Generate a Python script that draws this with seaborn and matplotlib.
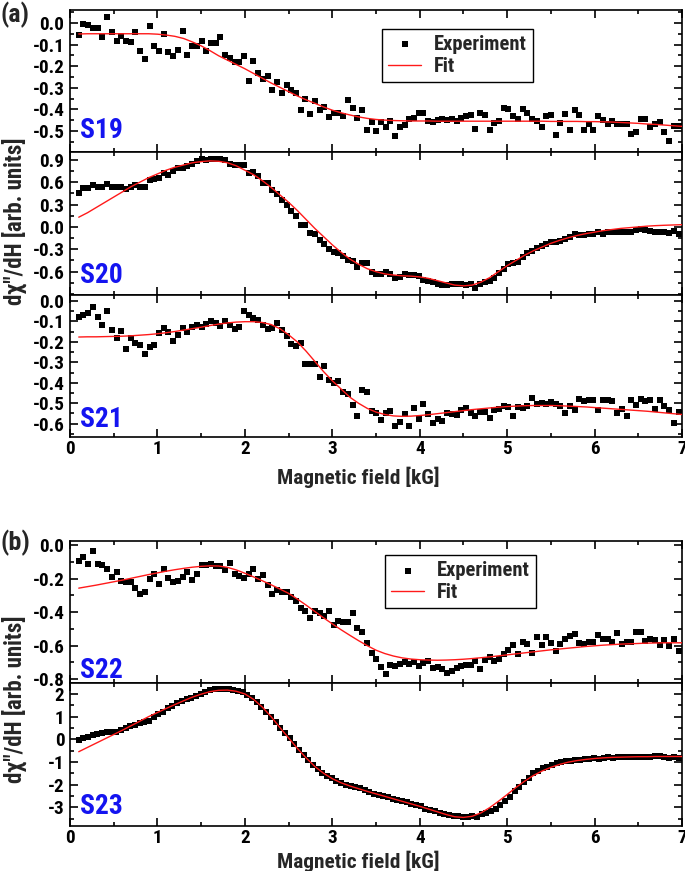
import numpy as np
import pandas as pd
import matplotlib
matplotlib.use("Agg")
import matplotlib.pyplot as plt
import seaborn as sns
from matplotlib import font_manager
from matplotlib.ticker import MultipleLocator, FixedLocator, FormatStrFormatter

# ---- data ----
s19_exp = [-0.057, -0.005, -0.011, -0.025, -0.025, -0.067, 0.028, -0.043, -0.082, -0.059,
           -0.084, -0.09, -0.043, -0.132, -0.166, -0.016, -0.106, -0.13, -0.051, -0.134,
           -0.155, -0.124, -0.037, -0.148, -0.109, -0.109, -0.084, -0.13, -0.093, -0.095,
           -0.065, -0.148, -0.163, -0.183, -0.183, -0.152, -0.269, -0.176, -0.233, -0.259,
           -0.248, -0.31, -0.272, -0.326, -0.287, -0.31, -0.326, -0.404, -0.354, -0.422,
           -0.36, -0.404, -0.388, -0.435, -0.416, -0.419, -0.43, -0.357, -0.392, -0.442,
           -0.404, -0.494, -0.461, -0.5, -0.458, -0.484, -0.455, -0.525, -0.481, -0.472,
           -0.447, -0.438, -0.419, -0.419, -0.453, -0.458, -0.45, -0.447, -0.45, -0.443,
           -0.453, -0.438, -0.432, -0.427, -0.489, -0.419, -0.427, -0.497, -0.463, -0.453,
           -0.396, -0.399, -0.432, -0.446, -0.399, -0.419, -0.446, -0.453, -0.481, -0.43,
           -0.427, -0.52, -0.463, -0.422, -0.494, -0.404, -0.427, -0.494, -0.466, -0.494,
           -0.432, -0.45, -0.469, -0.453, -0.469, -0.469, -0.466, -0.516, -0.505, -0.443,
           -0.443, -0.481, -0.469, -0.46, -0.505, -0.546, -0.478, -0.475]
s19_fit = [-0.051, -0.05, -0.05, -0.05, -0.05, -0.05, -0.05, -0.05, -0.05, -0.052,
           -0.056, -0.062, -0.072, -0.088, -0.106, -0.128, -0.152, -0.172, -0.192, -0.212,
           -0.234, -0.256, -0.278, -0.298, -0.318, -0.338, -0.356, -0.372, -0.389, -0.404,
           -0.416, -0.426, -0.435, -0.442, -0.447, -0.45, -0.452, -0.453, -0.454, -0.454,
           -0.454, -0.455, -0.455, -0.455, -0.455, -0.455, -0.455, -0.455, -0.455, -0.455,
           -0.455, -0.455, -0.455, -0.455, -0.456, -0.456, -0.456, -0.456, -0.457, -0.457,
           -0.458, -0.459, -0.461, -0.463, -0.465, -0.468, -0.47, -0.473, -0.476, -0.479]

s20_exp = [0.45, 0.52, 0.52, 0.565, 0.54, 0.54, 0.58, 0.53, 0.53, 0.53,
           0.51, 0.54, 0.56, 0.54, 0.54, 0.63, 0.645, 0.65, 0.725, 0.70,
           0.745, 0.79, 0.79, 0.82, 0.845, 0.88, 0.905, 0.895, 0.905, 0.905,
           0.91, 0.9, 0.845, 0.835, 0.825, 0.825, 0.72, 0.735, 0.685, 0.585,
           0.585, 0.49, 0.445, 0.365, 0.3, 0.215, 0.14, 0.025, 0.02, -0.085,
           -0.1, -0.175, -0.23, -0.3, -0.33, -0.355, -0.39, -0.445, -0.455, -0.54,
           -0.49, -0.49, -0.6, -0.63, -0.63, -0.61, -0.625, -0.68, -0.675, -0.625,
           -0.645, -0.645, -0.655, -0.71, -0.725, -0.745, -0.77, -0.78, -0.78, -0.76,
           -0.77, -0.77, -0.78, -0.77, -0.815, -0.77, -0.735, -0.725, -0.68, -0.62,
           -0.565, -0.5, -0.49, -0.465, -0.4, -0.355, -0.325, -0.28, -0.25, -0.23,
           -0.205, -0.205, -0.19, -0.16, -0.13, -0.1, -0.105, -0.105, -0.1, -0.09,
           -0.07, -0.09, -0.065, -0.07, -0.07, -0.07, -0.065, -0.07, -0.04, -0.025,
           -0.045, -0.055, -0.065, -0.065, -0.07, -0.08, -0.055, -0.1]
s20_fit = [0.13, 0.19, 0.26, 0.33, 0.40, 0.47, 0.54, 0.60, 0.66, 0.71,
           0.76, 0.80, 0.83, 0.86, 0.875, 0.885, 0.88, 0.86, 0.82, 0.76,
           0.70, 0.62, 0.53, 0.43, 0.33, 0.22, 0.10, -0.02, -0.13, -0.24,
           -0.34, -0.43, -0.50, -0.56, -0.60, -0.63, -0.645, -0.655, -0.66, -0.67,
           -0.69, -0.72, -0.75, -0.78, -0.79, -0.78, -0.74, -0.68, -0.60, -0.52,
           -0.45, -0.38, -0.32, -0.27, -0.22, -0.18, -0.145, -0.115, -0.09, -0.07,
           -0.05, -0.035, -0.02, -0.01, 0.0, 0.01, 0.017, 0.022, 0.026, 0.03]

s21_exp = [-0.077, -0.069, -0.058, -0.031, -0.077, -0.115, -0.048, -0.14, -0.179, -0.146,
           -0.235, -0.181, -0.206, -0.214, -0.258, -0.227, -0.214, -0.156, -0.13, -0.151,
           -0.197, -0.168, -0.132, -0.153, -0.128, -0.117, -0.127, -0.113, -0.097, -0.107,
           -0.12, -0.097, -0.117, -0.137, -0.125, -0.048, -0.069, -0.081, -0.094, -0.117,
           -0.137, -0.13, -0.107, -0.14, -0.169, -0.212, -0.219, -0.206, -0.308, -0.308,
           -0.308, -0.373, -0.319, -0.387, -0.4, -0.393, -0.446, -0.456, -0.508, -0.561,
           -0.436, -0.447, -0.539, -0.549, -0.581, -0.546, -0.538, -0.61, -0.592, -0.554,
           -0.613, -0.525, -0.576, -0.502, -0.551, -0.597, -0.576, -0.589, -0.549, -0.554,
           -0.559, -0.533, -0.525, -0.548, -0.564, -0.543, -0.543, -0.574, -0.531, -0.53,
           -0.512, -0.518, -0.564, -0.518, -0.525, -0.513, -0.472, -0.505, -0.497, -0.505,
           -0.492, -0.502, -0.515, -0.548, -0.515, -0.535, -0.477, -0.488, -0.484, -0.484,
           -0.533, -0.485, -0.485, -0.488, -0.549, -0.526, -0.562, -0.485, -0.508, -0.48,
           -0.488, -0.484, -0.526, -0.485, -0.513, -0.535, -0.595, -0.541]
s21_fit = [-0.176, -0.175, -0.175, -0.174, -0.173, -0.172, -0.17, -0.167, -0.164, -0.16,
           -0.155, -0.149, -0.142, -0.135, -0.128, -0.12, -0.113, -0.107, -0.103, -0.101,
           -0.101, -0.105, -0.115, -0.135, -0.165, -0.2, -0.245, -0.295, -0.345, -0.39,
           -0.43, -0.47, -0.5, -0.525, -0.543, -0.555, -0.562, -0.564, -0.563, -0.56,
           -0.556, -0.551, -0.546, -0.541, -0.536, -0.531, -0.527, -0.523, -0.519, -0.516,
           -0.514, -0.512, -0.511, -0.511, -0.511, -0.512, -0.514, -0.516, -0.518, -0.521,
           -0.524, -0.527, -0.53, -0.533, -0.536, -0.539, -0.543, -0.547, -0.551, -0.555]

s22_exp = [-0.096, -0.07, -0.113, -0.036, -0.113, -0.117, -0.144, -0.191, -0.159, -0.212,
           -0.223, -0.223, -0.255, -0.291, -0.282, -0.202, -0.172, -0.231, -0.144, -0.197,
           -0.219, -0.214, -0.193, -0.159, -0.206, -0.17, -0.121, -0.121, -0.113, -0.123,
           -0.125, -0.146, -0.108, -0.17, -0.185, -0.197, -0.17, -0.142, -0.202, -0.176,
           -0.24, -0.291, -0.27, -0.278, -0.282, -0.308, -0.333, -0.374, -0.393, -0.435,
           -0.393, -0.406, -0.425, -0.393, -0.478, -0.452, -0.456, -0.461, -0.403, -0.495,
           -0.52, -0.584, -0.641, -0.679, -0.728, -0.771, -0.715, -0.72, -0.711, -0.696,
           -0.711, -0.696, -0.722, -0.701, -0.69, -0.732, -0.728, -0.737, -0.766, -0.749,
           -0.732, -0.722, -0.715, -0.715, -0.69, -0.739, -0.686, -0.665, -0.694, -0.679,
           -0.648, -0.626, -0.594, -0.648, -0.58, -0.59, -0.641, -0.548, -0.594, -0.546,
           -0.584, -0.631, -0.592, -0.558, -0.541, -0.529, -0.584, -0.59, -0.58, -0.58,
           -0.537, -0.558, -0.558, -0.58, -0.524, -0.588, -0.58, -0.58, -0.52, -0.52,
           -0.573, -0.558, -0.567, -0.597, -0.567, -0.601, -0.563, -0.631]
s22_fit = [-0.257, -0.248, -0.239, -0.229, -0.219, -0.209, -0.198, -0.187, -0.176, -0.166,
           -0.156, -0.147, -0.139, -0.132, -0.127, -0.124, -0.125, -0.133, -0.148, -0.168,
           -0.19, -0.213, -0.237, -0.262, -0.288, -0.322, -0.358, -0.396, -0.434, -0.47,
           -0.505, -0.538, -0.57, -0.6, -0.627, -0.647, -0.662, -0.673, -0.68, -0.684,
           -0.686, -0.687, -0.686, -0.684, -0.681, -0.677, -0.672, -0.667, -0.661, -0.655,
           -0.649, -0.643, -0.637, -0.631, -0.625, -0.62, -0.615, -0.61, -0.605, -0.601,
           -0.597, -0.594, -0.591, -0.589, -0.587, -0.585, -0.584, -0.583, -0.583, -0.583]

s23_exp = [-0.035, 0.04, 0.11, 0.19, 0.245, 0.275, 0.3, 0.32, 0.33, 0.41,
           0.48, 0.57, 0.63, 0.70, 0.745, 0.82, 0.97, 1.1, 1.22, 1.37,
           1.48, 1.59, 1.69, 1.76, 1.84, 1.93, 2.01, 2.1, 2.19, 2.22,
           2.22, 2.22, 2.21, 2.18, 2.13, 2.07, 1.96, 1.81, 1.63, 1.44,
           1.22, 1.0, 0.745, 0.51, 0.26, 0.04, -0.23, -0.48, -0.70, -0.92,
           -1.14, -1.32, -1.47, -1.61, -1.73, -1.83, -1.92, -2.0, -2.07, -2.1,
           -2.14, -2.23, -2.32, -2.4, -2.47, -2.51, -2.56, -2.62, -2.66, -2.72,
           -2.79, -2.84, -2.91, -2.96, -3.06, -3.12, -3.18, -3.25, -3.28, -3.35,
           -3.38, -3.4, -3.43, -3.43, -3.38, -3.44, -3.32, -3.25, -3.18, -3.06,
           -2.91, -2.73, -2.53, -2.29, -2.09, -1.88, -1.7, -1.51, -1.41, -1.29,
           -1.23, -1.14, -1.07, -1.02, -0.96, -0.96, -0.92, -0.92, -0.88, -0.88,
           -0.82, -0.85, -0.82, -0.77, -0.82, -0.79, -0.79, -0.79, -0.79, -0.79,
           -0.77, -0.79, -0.79, -0.76, -0.76, -0.8, -0.82, -0.79, -0.82]
s23_fit = [-0.55, -0.36, -0.17, 0.02, 0.21, 0.4, 0.6, 0.8, 1.0, 1.18,
           1.36, 1.53, 1.7, 1.86, 1.99, 2.1, 2.16, 2.17, 2.12, 2.0,
           1.76, 1.42, 1.0, 0.52, 0.06, -0.4, -0.82, -1.2, -1.5, -1.74,
           -1.92, -2.06, -2.18, -2.3, -2.41, -2.52, -2.63, -2.74, -2.85, -2.96,
           -3.08, -3.2, -3.32, -3.42, -3.45, -3.4, -3.25, -3.02, -2.74, -2.44,
           -2.13, -1.85, -1.6, -1.4, -1.24, -1.11, -1.01, -0.94, -0.89, -0.85,
           -0.82, -0.8, -0.79, -0.78, -0.77, -0.77, -0.76, -0.76, -0.76, -0.76]

# y tick values shown on each panel
s19_ticks = [-0.5, -0.4, -0.3, -0.2, -0.1, 0.0]
s20_ticks = [-0.6, -0.3, 0.0, 0.3, 0.6, 0.9]
s21_ticks = [-0.6, -0.5, -0.4, -0.3, -0.2, -0.1, 0.0]
s22_ticks = [-0.8, -0.6, -0.4, -0.2, 0.0]
s23_ticks = [-3, -2, -1, 0, 1, 2]
x_ticks = [0, 1, 2, 3, 4, 5, 6, 7]

# ---- style ----
sns.set_theme(style="ticks")
names = {f.name for f in font_manager.fontManager.ttflist}
main_font, k = "Liberation Sans", 1.0
for cand, kk in [("Roboto Condensed", 1.1), ("Fira Sans Condensed", 1.08)]:
    if cand in names:
        main_font, k = cand, kk
        break
plt.rcParams["font.family"] = [main_font, "Liberation Sans", "DejaVu Sans"]
plt.rcParams["font.weight"] = "bold"
plt.rcParams["axes.labelweight"] = "bold"
plt.rcParams["axes.linewidth"] = 1.2
plt.rcParams["axes.edgecolor"] = "black"

W, H = 685, 871
fig = plt.figure(figsize=(W / 100, H / 100), dpi=100)

panels = [
    dict(name="S19", exp=s19_exp, fit=s19_fit, top=10.0, ylim=(-0.6, 0.06), ticks=s19_ticks,
         minor=0.05, fmt="%.1f", lab_y=0.155, legend=(0.51, 0.87), xlabels=False),
    dict(name="S20", exp=s20_exp, fit=s20_fit, top=152.3, ylim=(-0.91, 1.0), ticks=s20_ticks,
         minor=0.15, fmt="%.1f", lab_y=0.138, legend=None, xlabels=False),
    dict(name="S21", exp=s21_exp, fit=s21_fit, top=294.7, ylim=(-0.666, 0.031), ticks=s21_ticks,
         minor=0.05, fmt="%.1f", lab_y=0.125, legend=None, xlabels=True),
    dict(name="S22", exp=s22_exp, fit=s22_fit, top=540.7, ylim=(-0.824, 0.026), ticks=s22_ticks,
         minor=0.1, fmt="%.1f", lab_y=0.09, legend=(0.515, 0.90), xlabels=False),
    dict(name="S23", exp=s23_exp, fit=s23_fit, top=683.3, ylim=(-3.82, 2.47), ticks=s23_ticks,
         minor=0.5, fmt="%d", lab_y=0.133, legend=None, xlabels=True),
]
ax_h = 142.5
left, right = 70, 682

for p in panels:
    ax = fig.add_axes([left / W, 1 - (p["top"] + ax_h) / H, (right - left) / W, ax_h / H])
    exp_df = pd.DataFrame({"field": np.linspace(0.1, 6.96, len(p["exp"])), "signal": p["exp"]})
    fit_df = pd.DataFrame({"field": np.arange(1, len(p["fit"]) + 1) / 10, "signal": p["fit"]})
    sns.scatterplot(data=exp_df, x="field", y="signal", ax=ax, marker="s", s=17,
                    color="black", linewidth=0, label="Experiment", zorder=3)
    sns.lineplot(data=fit_df, x="field", y="signal", ax=ax, color="#ff1a1a", lw=1.0,
                 sort=False, estimator=None, label="Fit", zorder=4)
    ax.set_xlim(0, 7)
    ax.set_ylim(*p["ylim"])
    ax.set_xlabel("")
    ax.set_ylabel("")
    ax.xaxis.set_major_locator(FixedLocator(x_ticks))
    ax.xaxis.set_minor_locator(MultipleLocator(0.5))
    ax.yaxis.set_major_locator(FixedLocator(p["ticks"]))
    ax.yaxis.set_minor_locator(MultipleLocator(p["minor"]))
    ax.yaxis.set_major_formatter(FormatStrFormatter(p["fmt"]))
    ax.tick_params(which="both", direction="in", top=True, right=True, width=1.2,
                   colors="black", labelsize=12.5 * k)
    ax.tick_params(which="major", length=6, pad=4)
    ax.tick_params(which="minor", length=3)
    ax.tick_params(axis="x", pad=2)
    if not p["xlabels"]:
        ax.tick_params(axis="x", labelbottom=False)
    for lbl in ax.get_xticklabels() + ax.get_yticklabels():
        lbl.set_fontweight("bold")
    ax.text(0.016, p["lab_y"], p["name"], transform=ax.transAxes, color="#1414f0",
            fontsize=18 * k, fontweight="bold", va="center", ha="left")
    if p["legend"] is not None:
        leg = ax.legend(loc="upper left", bbox_to_anchor=p["legend"], frameon=True,
                        fancybox=False, edgecolor="black", framealpha=1, fontsize=13.5 * k,
                        handlelength=1.6, handletextpad=0.6, borderpad=0.3,
                        labelspacing=0.15, borderaxespad=0, markerscale=1.1)
        leg.get_frame().set_linewidth(1.0)
        for t in leg.get_texts():
            t.set_fontweight("bold")
    else:
        ax.get_legend().remove()

ylab = "d\u03c7\"/dH [arb. units]"
fig.text(14 / W, 1 - 221 / H, ylab, rotation=90, fontsize=15 * k, fontweight="bold",
         ha="center", va="center")
fig.text(14 / W, 1 - 699 / H, ylab, rotation=90, fontsize=15 * k, fontweight="bold",
         ha="center", va="center")
fig.text(358 / W, 1 - 477 / H, "Magnetic field [kG]", fontsize=14 * k, fontweight="bold",
         ha="center", va="center")
fig.text(358 / W, 1 - 868 / H, "Magnetic field [kG]", fontsize=14 * k, fontweight="bold",
         ha="center", va="baseline")
fig.text(15 / W, 1 - 15 / H, "(a)", fontsize=17 * k, fontweight="bold", ha="center", va="center")
fig.text(15 / W, 1 - 543 / H, "(b)", fontsize=17 * k, fontweight="bold", ha="center", va="center")

fig.savefig("out.png", dpi=100)
